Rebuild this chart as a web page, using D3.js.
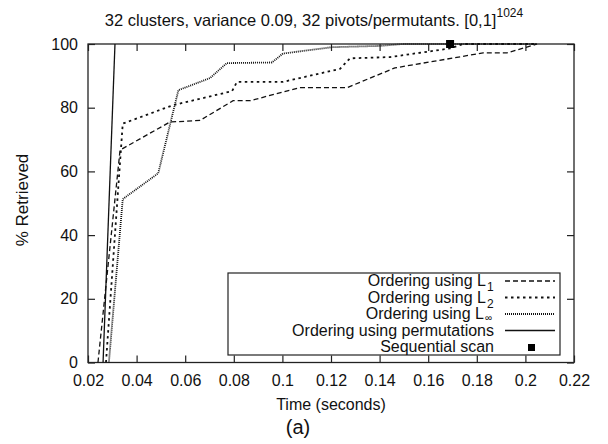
<!DOCTYPE html>
<html>
<head>
<meta charset="utf-8">
<script src="https://cdn.jsdelivr.net/npm/d3@7"></script>
<style>
  body { margin: 0; background: #fff; }
  svg { display: block; font-family: "Liberation Sans", Arial, sans-serif; }
</style>
</head>
<body>
<svg id="chart" width="608" height="444"></svg>
<script>
const l1Time = [0.0241, 0.0332, 0.0537, 0.0661, 0.0797, 0.0867, 0.1072, 0.1266, 0.1463, 0.1826, 0.1924, 0.2048];
const l1Pct  = [0, 66.7, 75.5, 76, 82.2, 82.2, 86.3, 86.3, 92.5, 97.2, 97.2, 100];

const l2Time = [0.0274, 0.0343, 0.055, 0.0793, 0.0813, 0.1002, 0.1237, 0.1278, 0.1443, 0.169, 0.1743, 0.2048];
const l2Pct  = [0, 75, 80.8, 85.2, 88.1, 88.1, 92.2, 95.5, 95.9, 98.6, 100, 100];

const linfTime = [0.0286, 0.0343, 0.0489, 0.0572, 0.0702, 0.0771, 0.0957, 0.1002, 0.1204, 0.1402, 0.1496, 0.2048];
const linfPct  = [0, 51.3, 59.4, 85.5, 89.3, 94, 94.2, 97, 99, 99.4, 100, 100];

const permTime = [0.0262, 0.0311];
const permPct  = [0, 100];

const seqTime = [0.169];
const seqPct  = [100];

const xTicks = [0.02, 0.04, 0.06, 0.08, 0.1, 0.12, 0.14, 0.16, 0.18, 0.2, 0.22];
const yTicks = [0, 20, 40, 60, 80, 100];

const plotLeft = 88, plotRight = 574, plotTop = 44, plotBottom = 362.5;
const tickLen = 7;

const svg = d3.select("#chart");

const x = d3.scaleLinear().domain([0.02, 0.22]).range([plotLeft, plotRight]);
const y = d3.scaleLinear().domain([0, 100]).range([plotBottom, plotTop]);

// axes, gnuplot style: ticks inside on all four sides
const fmt = d => String(+d.toFixed(2));

svg.append("g")
   .attr("transform", `translate(0, ${plotBottom})`)
   .call(d3.axisBottom(x).tickValues(xTicks).tickFormat(fmt).tickSizeInner(-tickLen).tickSizeOuter(0).tickPadding(12))
   .call(g => g.select(".domain").remove())
   .call(g => g.selectAll("text").attr("font-size", 16).attr("font-family", "Liberation Sans, Arial, sans-serif").attr("fill", "#111"));

svg.append("g")
   .attr("transform", `translate(0, ${plotTop})`)
   .call(d3.axisTop(x).tickValues(xTicks).tickFormat("").tickSizeInner(-tickLen).tickSizeOuter(0))
   .call(g => g.select(".domain").remove());

svg.append("g")
   .attr("transform", `translate(${plotLeft}, 0)`)
   .call(d3.axisLeft(y).tickValues(yTicks).tickSizeInner(-tickLen).tickSizeOuter(0).tickPadding(10))
   .call(g => g.select(".domain").remove())
   .call(g => g.selectAll("text").attr("font-size", 16).attr("font-family", "Liberation Sans, Arial, sans-serif").attr("fill", "#111"));

svg.append("g")
   .attr("transform", `translate(${plotRight}, 0)`)
   .call(d3.axisRight(y).tickValues(yTicks).tickFormat("").tickSizeInner(-tickLen).tickSizeOuter(0))
   .call(g => g.select(".domain").remove());

svg.selectAll(".tick line").attr("stroke", "#222").attr("stroke-width", 1.2);

// border
svg.append("rect")
   .attr("x", plotLeft).attr("y", plotTop)
   .attr("width", plotRight - plotLeft).attr("height", plotBottom - plotTop)
   .attr("fill", "none").attr("stroke", "#222").attr("stroke-width", 1.3);

// series
const series = [
  { t: l1Time,   p: l1Pct,   dash: "5,3",     w: 1.3 },
  { t: l2Time,   p: l2Pct,   dash: "2.5,3.5", w: 1.8 },
  { t: linfTime, p: linfPct, dash: "1,1",     w: 1.8 },
  { t: permTime, p: permPct, dash: null,      w: 1.3 }
];

const line = d3.line().x(d => x(d[0])).y(d => y(d[1]));

series.forEach(s => {
  svg.append("path")
     .datum(d3.zip(s.t, s.p))
     .attr("d", line)
     .attr("fill", "none")
     .attr("stroke", "#111")
     .attr("stroke-width", s.w)
     .attr("stroke-dasharray", s.dash);
});

svg.selectAll(".seq")
   .data(d3.zip(seqTime, seqPct))
   .enter()
   .append("rect")
   .attr("class", "seq")
   .attr("x", d => x(d[0]) - 4)
   .attr("y", d => y(d[1]) - 4)
   .attr("width", 8)
   .attr("height", 8)
   .attr("fill", "#000");

// legend
const legend = svg.append("g");
legend.append("rect")
      .attr("x", 228).attr("y", 273)
      .attr("width", 332).attr("height", 82)
      .attr("fill", "none").attr("stroke", "#222").attr("stroke-width", 1.2);

const legendRows = [
  { label: "Ordering using L", sub: "1", dash: "5,3", w: 1.3 },
  { label: "Ordering using L", sub: "2", dash: "2.5,3.5", w: 1.8 },
  { label: "Ordering using L", sub: "∞", dash: "1,1", w: 1.8 },
  { label: "Ordering using permutations", sub: null, dash: null, w: 1.3 },
  { label: "Sequential scan", sub: null, dash: "point", w: 0 }
];

legendRows.forEach((r, i) => {
  const by = 286 + i * 16.5;
  legend.append("text")
        .attr("x", r.sub ? 494 - (r.sub === "∞" ? 10 : 8) : 494)
        .attr("y", by)
        .attr("text-anchor", "end")
        .attr("font-size", 16)
        .attr("fill", "#111")
        .text(r.label);
  if (r.sub) {
    legend.append("text")
          .attr("x", r.sub === "∞" ? 485 : 487)
          .attr("y", by + (r.sub === "∞" ? 2 : 5))
          .attr("font-size", r.sub === "∞" ? 10 : 12)
          .attr("fill", "#111")
          .text(r.sub);
  }
  if (r.dash === "point") {
    legend.append("rect")
          .attr("x", 528).attr("y", by - 8)
          .attr("width", 7).attr("height", 7)
          .attr("fill", "#000");
  } else {
    legend.append("line")
          .attr("x1", 505).attr("x2", 555)
          .attr("y1", by - 5).attr("y2", by - 5)
          .attr("stroke", "#111")
          .attr("stroke-width", r.w)
          .attr("stroke-dasharray", r.dash);
  }
});

// titles
const title = svg.append("text")
   .attr("x", 314).attr("y", 26)
   .attr("text-anchor", "middle")
   .attr("font-size", 16.5)
   .attr("fill", "#111");
title.append("tspan").text("32 clusters, variance 0.09, 32 pivots/permutants. [0,1]");
title.append("tspan").attr("dy", -9).attr("font-size", 12).text("1024");

svg.append("text")
   .attr("x", 331).attr("y", 410)
   .attr("text-anchor", "middle")
   .attr("font-size", 16)
   .attr("fill", "#111")
   .text("Time (seconds)");

svg.append("text")
   .attr("transform", "translate(28, 200) rotate(-90)")
   .attr("text-anchor", "middle")
   .attr("font-size", 17)
   .attr("fill", "#111")
   .text("% Retrieved");

svg.append("text")
   .attr("x", 298).attr("y", 434)
   .attr("text-anchor", "middle")
   .attr("font-size", 20)
   .attr("fill", "#111")
   .text("(a)");
</script>
</body>
</html>
